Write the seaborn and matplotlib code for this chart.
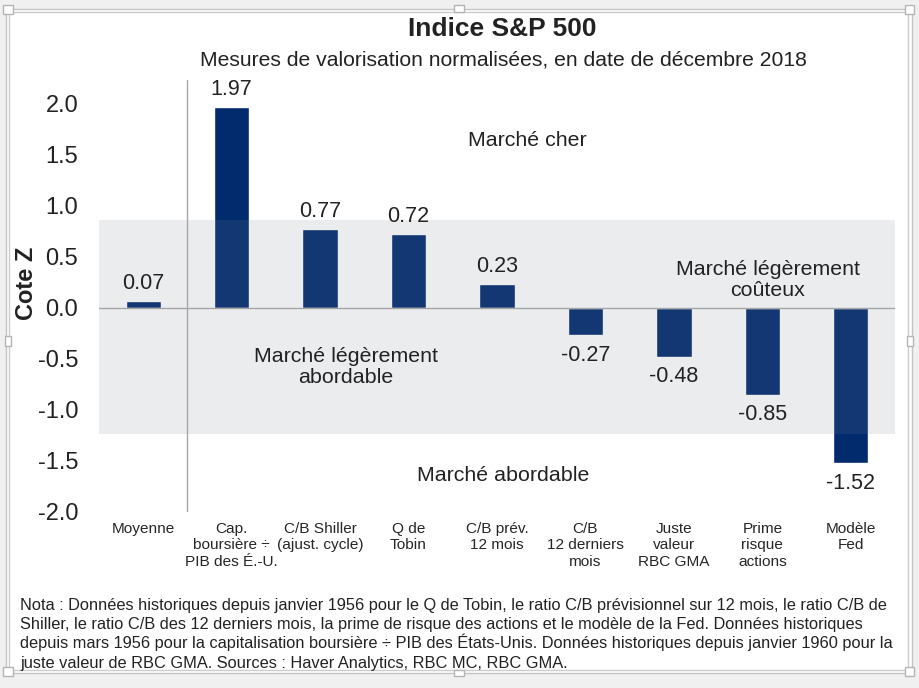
import pandas as pd
import numpy as np
import matplotlib.pyplot as plt
import seaborn as sns
from matplotlib.patches import Rectangle

## Indice S&P 500 - mesures de valorisation normalisees

categories = ["Moyenne", "Cap.\nboursière ÷\nPIB des É.-U.", "C/B Shiller\n(ajust. cycle)",
              "Q de\nTobin", "C/B prév.\n12 mois", "C/B\n12 derniers\nmois",
              "Juste\nvaleur\nRBC GMA", "Prime\nrisque\nactions", "Modèle\nFed"]
zscores = [0.07, 1.97, 0.77, 0.72, 0.23, -0.27, -0.48, -0.85, -1.52]
yticks = [-2.0, -1.5, -1.0, -0.5, 0.0, 0.5, 1.0, 1.5, 2.0]
band_low, band_high = -1.24, 0.86

note_lines = [
    "Nota : Données historiques depuis janvier 1956 pour le Q de Tobin, le ratio C/B prévisionnel sur 12 mois, le ratio C/B de",
    "Shiller, le ratio C/B des 12 derniers mois, la prime de risque des actions et le modèle de la Fed. Données historiques",
    "depuis mars 1956 pour la capitalisation boursière ÷ PIB des États-Unis. Données historiques depuis janvier 1960 pour la",
    "juste valeur de RBC GMA. Sources : Haver Analytics, RBC MC, RBC GMA.",
]

df = pd.DataFrame({'mesure': categories, 'cote': zscores})

sns.set_style("white")
plt.rcParams['font.family'] = ['Liberation Sans', 'DejaVu Sans']
plt.rcParams['axes.unicode_minus'] = False

W, H = 920, 688
fig = plt.figure(figsize=(9.2, 6.88), dpi=100, facecolor='#f0f0f0')


def px_rect(x0, y0, x1, y1, **kw):
    # rectangle given in pixel coords (top-left origin)
    fig.patches.append(Rectangle((x0 / W, 1 - y1 / H), (x1 - x0) / W, (y1 - y0) / H,
                                 transform=fig.transFigure, **kw))


# white panel with double frame and handles
px_rect(6, 9, 912, 673, facecolor='white', edgecolor='#c4c4c4', lw=1, zorder=-10)
px_rect(9, 12, 908, 670, facecolor='none', edgecolor='#cccccc', lw=1, zorder=-9)
for cx, cy in [(8, 9.5), (910, 9.5), (8, 671.5), (910, 671.5)]:
    px_rect(cx - 4.5, cy - 4.5, cx + 4.5, cy + 4.5, facecolor='white', edgecolor='#b4b4b4', lw=1, zorder=-8)
for cx, cy in [(459, 8.5), (459, 672.5)]:
    px_rect(cx - 5, cy - 3, cx + 5, cy + 3, facecolor='white', edgecolor='#b4b4b4', lw=1, zorder=-8)
for cx, cy in [(7.5, 341), (910.5, 341)]:
    px_rect(cx - 3, cy - 5, cx + 3, cy + 5, facecolor='white', edgecolor='#b4b4b4', lw=1, zorder=-8)

ax = fig.add_axes([99 / W, 1 - 512 / H, 796 / W, 432 / H])
ax.set_facecolor('none')

sns.barplot(data=df, x='mesure', y='cote', color='#022b6e', width=0.4, saturation=1, ax=ax, zorder=2)

ax.axhspan(band_low, band_high, color=(0.478, 0.502, 0.557), alpha=0.15, lw=0, zorder=3)
ax.axhline(0, color='#a6a6a6', lw=1, zorder=4)
ax.axvline(0.5, color='#a6a6a6', lw=1, zorder=4)

for i, v in enumerate(zscores):
    if v >= 0:
        ax.annotate(f'{v:.2f}', (i, v), xytext=(0, 5), textcoords='offset points',
                    ha='center', va='bottom', fontsize=15.5, color='#222222', zorder=5)
    else:
        ax.annotate(f'{v:.2f}', (i, v), xytext=(0, -7), textcoords='offset points',
                    ha='center', va='top', fontsize=15.5, color='#222222', zorder=5)

ax.text(4.34, 1.64, 'Marché cher', ha='center', va='center', fontsize=15.4, color='#222222')
ax.text(7.06, 0.27, 'Marché légèrement\ncoûteux', ha='center', va='center', fontsize=15.4, color='#222222', linespacing=1.1)
ax.text(2.29, -0.58, 'Marché légèrement\nabordable', ha='center', va='center', fontsize=15.4, color='#222222', linespacing=1.1)
ax.text(4.07, -1.64, 'Marché abordable', ha='center', va='center', fontsize=15.4, color='#222222')

ax.set_xlim(-0.5, 8.5)
ax.set_ylim(-2.0, 2.23)
ax.set_yticks(yticks)
ax.set_yticklabels([f'{t:.1f}' for t in yticks], fontsize=17, color='#222222')
ax.tick_params(axis='y', length=0, pad=15)
ax.tick_params(axis='x', length=0, pad=7)
for lab in ax.get_xticklabels():
    lab.set_fontsize(11.1)
    lab.set_linespacing(1.25)
    lab.set_verticalalignment('top')
ax.set_xlabel('')
ax.set_ylabel('')
for s in ax.spines.values():
    s.set_visible(False)

fig.text(27 / W, 1 - 283 / H, 'Cote Z', rotation=90, ha='center', va='center',
         fontsize=17, fontweight='bold', color='#222222')
fig.text(502 / W, 1 - 29 / H, 'Indice S&P 500', ha='center', va='center',
         fontsize=19, fontweight='bold', color='#222222')
fig.text(503 / W, 1 - 60 / H, 'Mesures de valorisation normalisées, en date de décembre 2018',
         ha='center', va='center', fontsize=15.2, color='#222222')
for k, line in enumerate(note_lines):
    fig.text(20 / W, 1 - (610 + 19.2 * k) / H, line, ha='left', va='baseline', fontsize=11.8, color='#222222')

plt.savefig('out.png', dpi=100, facecolor=fig.get_facecolor())
